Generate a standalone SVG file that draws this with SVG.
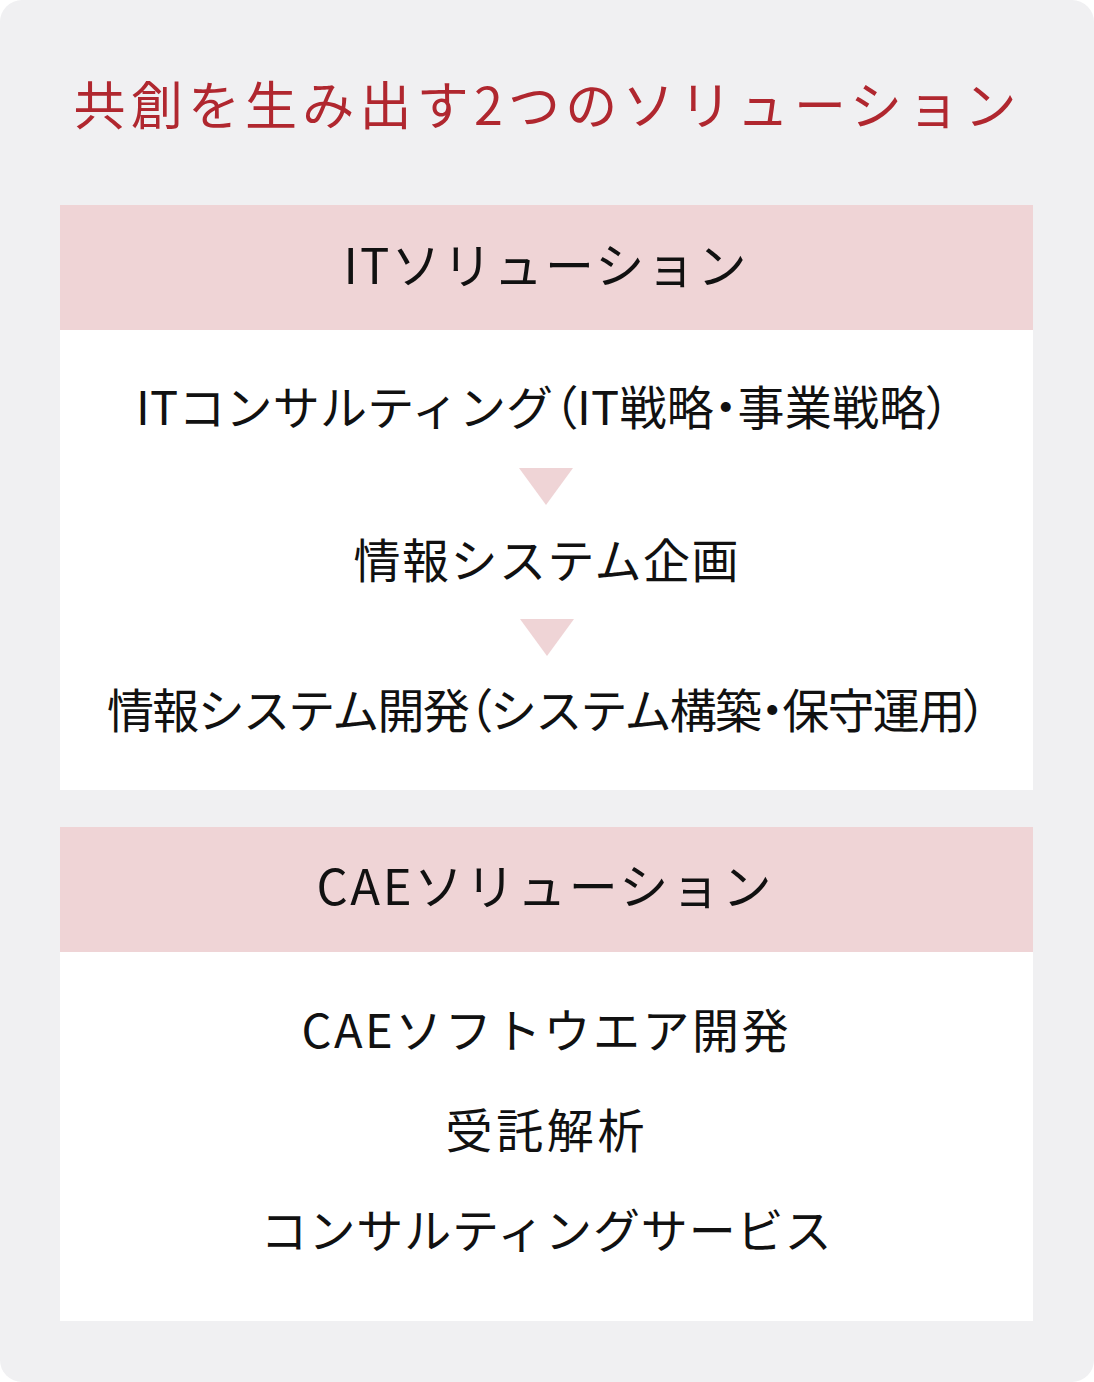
<svg xmlns="http://www.w3.org/2000/svg" width="1094" height="1382" viewBox="0 0 1094 1382">
<style>
text{font-family:"Noto Sans CJK JP","Noto Sans",sans-serif;text-anchor:middle;fill:#111}
.title{font-size:52px;fill:#b0272f}
.hd{font-size:49px}
.it{font-size:47px}
.p{font-feature-settings:"palt" 1}
.hdbg{fill:#efd4d6}
.body{fill:#ffffff}
.arr{fill:#efd4d6}
</style>
<rect x="0" y="0" width="1094" height="1382" rx="22" fill="#f0f0f2"/>
<text class="title" x="545" y="125" textLength="943" lengthAdjust="spacing">共創を生み出す2つのソリューション</text>
<g id="it-solution">
<rect class="hdbg" x="60" y="205" width="973" height="125"/>
<text class="hd" x="545" y="284" textLength="403" lengthAdjust="spacing">ITソリューション</text>
<rect class="body" x="60" y="330" width="973" height="460"/>
</g>
<g id="it-consulting"><text class="it" x="543" y="425" textLength="814" lengthAdjust="spacing">ITコンサルティング<tspan class="p">（</tspan>IT戦略<tspan class="p">・</tspan>事業戦略<tspan class="p">）</tspan></text></g>
<g id="it-planning"><text class="it" x="546" y="578" textLength="385" lengthAdjust="spacing">情報システム企画</text></g>
<g id="it-dev"><text class="it" x="547" y="728" textLength="880" lengthAdjust="spacing">情報システム開発<tspan class="p">（</tspan>システム構築<tspan class="p">・</tspan>保守運用<tspan class="p">）</tspan></text></g>
<g id="connectors">
<polygon class="arr" points="519,468 573,468 546,505"/>
<polygon class="arr" points="520,619 574,619 547,656"/>
</g>
<g id="cae-solution">
<rect class="hdbg" x="60" y="827" width="973" height="125"/>
<text class="hd" x="544" y="905" textLength="455" lengthAdjust="spacing">CAEソリューション</text>
<rect class="body" x="60" y="952" width="973" height="369"/>
</g>
<g id="cae-software"><text class="it" x="545" y="1048" textLength="487" lengthAdjust="spacing">CAEソフトウエア開発</text></g>
<g id="cae-analysis"><text class="it" x="545" y="1148" textLength="199" lengthAdjust="spacing">受託解析</text></g>
<g id="cae-consulting"><text class="it" x="546" y="1248" textLength="571" lengthAdjust="spacing">コンサルティングサービス</text></g>
</svg>
